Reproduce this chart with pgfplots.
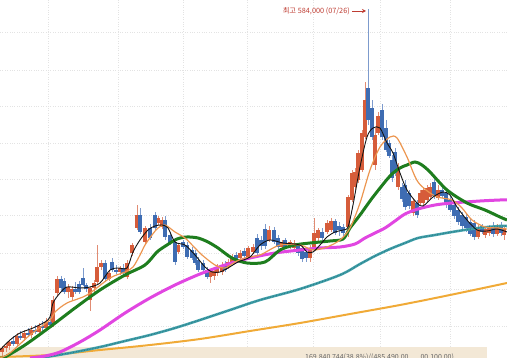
\documentclass[border=0pt]{standalone}
\usepackage{pgfplots}
\pgfplotsset{compat=1.18}
\usepackage{pgfplotstable}
\usepackage{fontspec}
\newfontfamily\kr{Noto Sans CJK KR}
\usetikzlibrary{arrows.meta}
\definecolor{bred}{RGB}{214,92,58}
\definecolor{bblue}{RGB}{62,108,178}
\definecolor{wred}{RGB}{225,140,115}
\definecolor{wblue}{RGB}{125,155,205}
\definecolor{ma5}{RGB}{20,20,20}
\definecolor{ma20}{RGB}{236,150,80}
\definecolor{ma60}{RGB}{30,125,30}
\definecolor{ma120}{RGB}{225,70,225}
\definecolor{ma240}{RGB}{70,165,175}
\definecolor{ma240d}{RGB}{40,125,135}
\definecolor{malong}{RGB}{240,170,55}
\definecolor{beige}{RGB}{243,232,214}
\definecolor{annred}{RGB}{190,60,50}

% candles: x position, open, high, low, close (chart units, larger = lower on chart)
\pgfplotstableread{
x o h l c
2 352 346 356 348
6 348 343 352 346
9 346 340 350 342
13 341 336 346 344
17 344 333 346 336
20 336 331 340 338
24 338 330 341 333
28 333 328 337 335
31 335 326 338 330
35 330 325 334 332
39 332 323 334 326
42 326 321 331 328
46 328 318 330 322
50 322 317 327 325
53 325 296 327 300
57 293 276 296 279
61 279 276 292 288
64 281 278 294 292
68 292 284 298 287
72 297 286 300 289
75 289 282 294 292
79 284 281 294 292
83 278 268 286 285
86 285 283 292 289
90 300 286 311 288
94 288 280 292 283
97 282 245 285 267
101 267 260 270 263
105 263 260 282 279
109 279 270 281 273
112 262 258 272 270
116 270 265 274 272
120 272 266 275 268
123 268 264 276 273
127 277 260 279 263
132 253 243 256 245
137 228 205 230 215
140 215 208 234 232
145 242 226 245 228
150 228 224 240 238
155 215 212 230 228
158 223 216 225 218
162 227 217 229 220
165 220 216 240 237
170 235 232 245 243
175 242 238 265 262
178 252 243 254 245
183 242 240 249 247
187 245 242 259 257
192 250 247 260 258
195 253 250 265 263
198 260 257 272 270
203 263 260 272 270
207 270 267 279 277
210 277 270 283 272
214 276 268 280 271
217 273 264 276 267
222 272 262 275 265
225 264 261 272 270
228 267 259 269 262
232 262 254 264 257
236 255 252 263 260
240 258 250 261 253
244 251 248 258 256
248 257 246 259 248
253 252 244 254 247
257 238 234 256 253
261 240 236 250 246
265 229 224 249 246
269 240 226 242 230
274 230 227 244 242
278 238 235 249 247
282 247 240 249 242
285 240 238 249 247
290 247 240 249 242
294 248 240 250 243
298 245 243 256 253
302 248 246 262 259
306 252 249 262 258
310 258 245 262 249
314 248 218 250 233
318 238 228 241 230
322 232 228 240 238
327 232 220 234 223
331 230 218 232 221
335 221 219 235 233
339 226 222 236 230
343 227 224 236 233
348 227 195 237 197
352 200 170 202 173
355 187 168 190 172
358 180 150 183 153
362 170 130 172 133
365 137 82 139 100
368 88 9 125 120
372 108 100 140 137
375 165 128 170 135
378 133 112 135 116
382 110 104 140 137
386 128 120 152 150
389 143 140 158 156
392 160 155 182 178
395 152 148 176 173
398 187 163 190 167
402 187 183 202 199
405 185 180 210 207
409 193 190 209 206
413 213 198 216 201
417 203 200 218 215
420 203 190 205 193
423 203 188 205 190
427 200 185 202 188
430 197 183 199 187
434 182 178 199 196
438 198 185 200 190
442 190 186 198 196
446 193 190 208 205
450 200 196 212 210
454 205 202 219 216
458 210 207 225 222
462 215 212 229 226
466 217 214 232 228
470 222 218 236 234
474 223 220 240 237
478 237 225 239 228
482 226 224 234 232
485 235 226 238 229
489 233 225 236 227
493 226 222 237 234
497 234 224 236 227
501 225 222 236 233
504 235 226 240 229
}\candles

\pgfplotsset{
  candlepart/.style={only marks, mark=*, mark size=0pt, mark options={draw=none, fill=none}, forget plot},
}

\begin{document}
\begin{tikzpicture}
\begin{axis}[
  scale only axis, width=507pt, height=358pt,
  xmin=0, xmax=507, ymin=0, ymax=358, y dir=reverse,
  axis line style={draw=none},
  xtick={48,118,183,247,313,380,450},
  ytick={33,71,107,144,180,216,254,290,327},
  xticklabels={}, yticklabels={},
  major tick length=0pt,
  grid=major,
  major grid style={dotted, line width=1pt, color=black!11},
  clip=true,
]
\fill[beige] (axis cs:0,347) rectangle (axis cs:487,358);

% wicks
\addplot[candlepart, color=wred,
  restrict expr to domain={\thisrow{o}-\thisrow{c}}{0:1000},
  error bars/.cd, y dir=both, y explicit, error mark=none,
  error bar style={line width=1pt, color=wred}]
  table[x=x, y expr=(\thisrow{h}+\thisrow{l})/2, y error expr=(\thisrow{l}-\thisrow{h})/2] {\candles};
\addplot[candlepart, color=wblue,
  restrict expr to domain={\thisrow{c}-\thisrow{o}}{0.001:1000},
  error bars/.cd, y dir=both, y explicit, error mark=none,
  error bar style={line width=1pt, color=wblue}]
  table[x=x, y expr=(\thisrow{h}+\thisrow{l})/2, y error expr=(\thisrow{l}-\thisrow{h})/2] {\candles};
% bodies
\addplot[candlepart, color=bred,
  restrict expr to domain={\thisrow{o}-\thisrow{c}}{0:1000},
  error bars/.cd, y dir=both, y explicit, error mark=none,
  error bar style={line width=3.1pt, color=bred}]
  table[x=x, y expr=(\thisrow{o}+\thisrow{c})/2, y error expr=abs(\thisrow{o}-\thisrow{c})/2] {\candles};
\addplot[candlepart, color=bblue,
  restrict expr to domain={\thisrow{c}-\thisrow{o}}{0.001:1000},
  error bars/.cd, y dir=both, y explicit, error mark=none,
  error bar style={line width=3.1pt, color=bblue}]
  table[x=x, y expr=(\thisrow{o}+\thisrow{c})/2, y error expr=abs(\thisrow{o}-\thisrow{c})/2] {\candles};

% long MA (golden)
\addplot[malong, line width=2pt, smooth] coordinates {
(0,357)(50,355)(100,350)(150,345)(200,339)(250,331)(300,323)(350,314)(400,305)(450,295)(507,283)};
% teal MA
\addplot[ma240, line width=2.6pt, smooth] coordinates {
(40,358)(70,353)(100,347)(125,341)(150,335)(175,328)(200,320)(230,310)(260,300)(300,289)(340,275)(360,264)(375,256)(390,249)(405,243)(418,238)(435,235)(452,232)(478,228)(500,226)(507,226)};
\addplot[ma240d, line width=1.3pt, smooth, dash pattern=on 0.7pt off 0.9pt] coordinates {
(40,358)(70,353)(100,347)(125,341)(150,335)(175,328)(200,320)(230,310)(260,300)(300,289)(340,275)(360,264)(375,256)(390,249)(405,243)(418,238)(435,235)(452,232)(478,228)(500,226)(507,226)};
% magenta MA
\addplot[ma120, line width=3pt, smooth] coordinates {
(30,358)(45,356)(60,352)(80,342)(100,330)(125,313)(150,298)(175,285)(200,274)(225,265)(250,258)(275,253)(300,250)(320,248)(340,247)(355,244)(365,238)(375,233)(385,228)(395,221)(405,214)(418,209)(435,205)(452,203)(480,201)(500,200)(507,200)};
% green MA
\addplot[ma60, line width=3pt, smooth] coordinates {
(0,358)(5,357)(25,345)(50,327)(75,308)(100,290)(125,275)(145,265)(157,252)(167,245)(177,239)(187,237)(198,238)(208,242)(218,248)(232,258)(247,263)(265,262)(280,250)(295,245)(310,243)(330,241)(343,239)(350,228)(360,215)(373,197)(390,176)(400,168)(407,165)(415,162)(422,165)(430,172)(447,190)(467,203)(485,210)(500,217)(507,220)};
% orange MA
\addplot[ma20, line width=1.2pt, smooth] coordinates {
(0,358)(10,353)(30,335)(50,320)(55,312)(67,303)(87,295)(110,278)(125,272)(133,267)(140,255)(145,245)(152,235)(158,228)(165,225)(175,232)(185,238)(195,248)(202,255)(215,265)(225,268)(235,262)(245,258)(260,255)(280,245)(300,245)(313,250)(327,247)(340,240)(350,228)(360,203)(370,170)(380,147)(390,137)(397,138)(407,157)(418,182)(435,196)(452,200)(462,208)(472,220)(485,227)(498,228)(507,229)};
% black MA
\addplot[ma5, line width=0.9pt, smooth] coordinates {
(0,350)(10,340)(20,333)(33,328)(45,322)(50,317)(53,303)(60,293)(67,287)(80,288)(90,287)(100,283)(110,270)(118,268)(127,268)(133,252)(140,240)(148,230)(155,226)(162,225)(168,228)(175,242)(185,245)(195,255)(205,267)(212,272)(220,272)(228,268)(238,262)(250,257)(260,245)(270,240)(283,243)(300,245)(307,252)(313,252)(320,245)(327,237)(335,232)(343,230)(348,227)(353,205)(360,167)(367,137)(373,128)(380,128)(387,143)(393,153)(400,173)(407,190)(417,203)(423,206)(433,197)(443,192)(450,195)(457,207)(467,220)(477,230)(487,231)(497,229)(507,232)};

\draw[annred, line width=0.8pt, -{Stealth[length=4pt,width=4pt]}] (axis cs:352,11) -- (axis cs:366,11);
\node[anchor=east, text=annred, font=\kr\fontsize{7.3pt}{8pt}\selectfont, inner sep=1pt] at (axis cs:351,11) {최고 584,000 (07/26)};
\node[anchor=north west, text=black!60, font=\kr\fontsize{7pt}{8pt}\selectfont, inner sep=0pt] at (axis cs:305,353.5) {169,840 744(38.8\%)/(485,490.00\hspace{12pt}00,100.00)};
\end{axis}
\pgfresetboundingbox
\useasboundingbox (current axis.south west) rectangle (current axis.north east);
\end{tikzpicture}
\end{document}
